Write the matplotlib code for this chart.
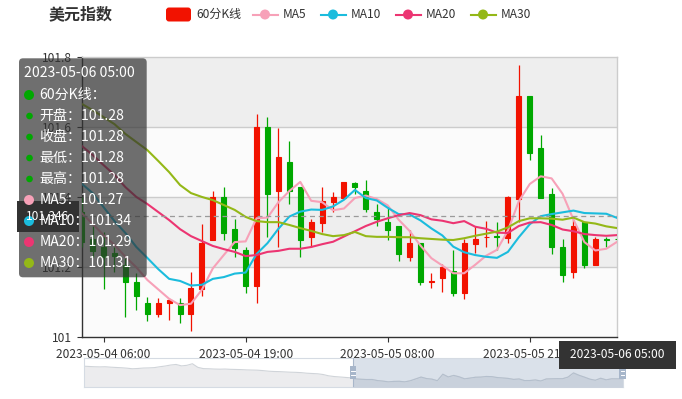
import matplotlib
matplotlib.use('Agg')
import matplotlib.pyplot as plt
from matplotlib.patches import Rectangle, FancyBboxPatch, Circle
import numpy as np
import pandas as pd

plt.rcParams['font.family'] = ['Noto Sans CJK SC', 'DejaVu Sans']

# ---------------- data ----------------
title = '美元指数'
kname = '60分K线'
ma_names = ['MA5', 'MA10', 'MA20', 'MA30']
categories = [t.strftime('%Y-%m-%d %H:%M') for t in
              pd.date_range('2023-05-04 04:00', periods=50, freq='h')]

open_ = [101.359, 101.280, 101.257, 101.240, 101.208, 101.159, 101.099, 101.067, 101.097, 101.099,
         101.067, 101.137, 101.278, 101.400, 101.309, 101.249, 101.147, 101.600, 101.418, 101.500,
         101.429, 101.287, 101.327, 101.387, 101.397, 101.440, 101.419, 101.359, 101.329, 101.319,
         101.229, 101.269, 101.157, 101.169, 101.189, 101.127, 101.266, 101.286, 101.289, 101.283,
         101.396, 101.689, 101.540, 101.409, 101.259, 101.188, 101.329, 101.207, 101.281, 101.280]
close_ = [101.272, 101.247, 101.229, 101.232, 101.157, 101.119, 101.067, 101.099, 101.107, 101.067,
          101.140, 101.269, 101.400, 101.297, 101.256, 101.147, 101.600, 101.409, 101.516, 101.418,
          101.278, 101.330, 101.389, 101.400, 101.443, 101.429, 101.366, 101.338, 101.307, 101.238,
          101.269, 101.157, 101.160, 101.200, 101.127, 101.269, 101.280, 101.288, 101.286, 101.400,
          101.689, 101.527, 101.397, 101.257, 101.178, 101.319, 101.207, 101.280, 101.279, 101.280]
low_ = [101.258, 101.229, 101.138, 101.188, 101.059, 101.078, 101.047, 101.059, 101.049, 101.040,
        101.019, 101.119, 101.278, 101.278, 101.229, 101.127, 101.099, 101.287, 101.257, 101.380,
        101.229, 101.257, 101.300, 101.359, 101.397, 101.409, 101.359, 101.319, 101.278, 101.219,
        101.219, 101.149, 101.140, 101.129, 101.119, 101.109, 101.240, 101.259, 101.249, 101.269,
        101.330, 101.508, 101.397, 101.238, 101.157, 101.169, 101.199, 101.207, 101.259, 101.280]
high_ = [101.400, 101.318, 101.300, 101.258, 101.228, 101.183, 101.116, 101.111, 101.111, 101.113,
         101.187, 101.323, 101.418, 101.429, 101.338, 101.259, 101.638, 101.629, 101.599, 101.562,
         101.430, 101.338, 101.430, 101.416, 101.443, 101.443, 101.449, 101.380, 101.372, 101.319,
         101.307, 101.269, 101.183, 101.209, 101.249, 101.281, 101.318, 101.333, 101.329, 101.405,
         101.778, 101.689, 101.578, 101.428, 101.281, 101.338, 101.329, 101.287, 101.287, 101.280]

ma5 = [101.355, 101.324, 101.292, 101.264, 101.230, 101.200, 101.164, 101.137, 101.110, 101.092,
       101.096, 101.136, 101.197, 101.235, 101.272, 101.274, 101.340, 101.342, 101.386, 101.418,
       101.444, 101.390, 101.386, 101.363, 101.368, 101.398, 101.405, 101.395, 101.377, 101.336,
       101.304, 101.262, 101.226, 101.205, 101.183, 101.183, 101.207, 101.233, 101.250, 101.305,
       101.389, 101.438, 101.460, 101.454, 101.410, 101.336, 101.272, 101.248, 101.253, 101.273]
ma10 = [101.439, 101.412, 101.372, 101.332, 101.298, 101.258, 101.227, 101.195, 101.167, 101.161,
        101.148, 101.150, 101.167, 101.172, 101.182, 101.185, 101.238, 101.269, 101.310, 101.345,
        101.359, 101.365, 101.364, 101.374, 101.393, 101.421, 101.398, 101.391, 101.370, 101.352,
        101.351, 101.334, 101.311, 101.291, 101.259, 101.243, 101.235, 101.230, 101.227, 101.244,
        101.286, 101.323, 101.346, 101.352, 101.357, 101.362, 101.355, 101.354, 101.353, 101.341]
ma20 = [101.547, 101.521, 101.492, 101.464, 101.429, 101.401, 101.381, 101.358, 101.335, 101.309,
        101.289, 101.275, 101.261, 101.252, 101.244, 101.232, 101.235, 101.244, 101.247, 101.253,
        101.253, 101.258, 101.266, 101.273, 101.288, 101.303, 101.318, 101.330, 101.340, 101.349,
        101.355, 101.349, 101.337, 101.333, 101.326, 101.332, 101.316, 101.310, 101.299, 101.298,
        101.318, 101.328, 101.329, 101.321, 101.308, 101.303, 101.295, 101.292, 101.290, 101.292]
ma30 = [101.667, 101.649, 101.629, 101.609, 101.581, 101.558, 101.535, 101.504, 101.472, 101.435,
        101.412, 101.401, 101.392, 101.378, 101.364, 101.344, 101.332, 101.329, 101.329, 101.321,
        101.312, 101.304, 101.295, 101.289, 101.292, 101.301, 101.289, 101.287, 101.287, 101.286,
        101.286, 101.283, 101.281, 101.279, 101.278, 101.283, 101.290, 101.296, 101.302, 101.314,
        101.332, 101.340, 101.340, 101.339, 101.336, 101.342, 101.329, 101.325, 101.317, 101.312]

# closes before the visible window
prior_close = [102.16, 102.14, 102.12, 102.11, 102.12, 102.09, 102.07, 102.05, 102.02, 101.98,
               102.00, 102.03, 102.04, 102.06, 102.12, 102.17, 102.24, 102.28, 102.18, 102.22,
               102.33, 102.08, 101.99, 101.98, 101.96, 101.95, 101.96, 101.94, 101.93, 101.92,
               101.90, 101.89, 101.88, 101.85, 101.81, 101.79, 101.78, 101.76, 101.74, 101.73,
               101.71, 101.67, 101.65, 101.63, 101.58, 101.49, 101.44, 101.41, 101.38, 101.35]

y_ticks = [101.0, 101.2, 101.4, 101.6, 101.8]
pointer_value = 101.346
zoom_start_pct = 50

# ---------------- style ----------------
W, H, DPI = 682, 399, 100
RED, GREEN = '#f21200', '#00a800'
MA_COLORS = ['#f7a1b8', '#1bbcdd', '#ec3572', '#94b817']
TXT = '#333333'


def px(v):
    return v * 72.0 / DPI


fig = plt.figure(figsize=(W / DPI, H / DPI), dpi=DPI)
fig.patch.set_facecolor('white')

PL, PR, PT, PB = 81.7, 617.2, 57.3, 337.3
ax = fig.add_axes([PL / W, 1 - PB / H, (PR - PL) / W, (PB - PT) / H])
n = len(close_)
x = np.arange(n)
ax.set_xlim(0, n - 1)
ax.set_ylim(y_ticks[0], y_ticks[-1])
ax.set_facecolor('white')

for i in range(len(y_ticks) - 1):
    ax.axhspan(y_ticks[i], y_ticks[i + 1], color=['#fbfbfb', '#eeeeee'][i % 2], lw=0, zorder=0)
for v in y_ticks[1:-1]:
    ax.axhline(v, color='#cccccc', lw=1, zorder=0.5)

o = np.array(open_); c = np.array(close_); lo = np.array(low_); hi = np.array(high_)
cols = [RED if cc > oo else GREEN for oo, cc in zip(o, c)]
ax.vlines(x, lo, hi, colors=cols, lw=0.9, zorder=3)
ax.bar(x, np.abs(c - o), bottom=np.minimum(o, c), width=0.46, color=cols,
       edgecolor=cols, linewidth=0.8, zorder=4)

for vals, col in zip([ma5, ma10, ma20, ma30], MA_COLORS):
    ax.plot(x, vals, color=col, lw=1.5, zorder=5, solid_joinstyle='round')

ax.axhline(pointer_value, color='#9a9a9a', lw=0.9, ls=(0, (4, 3)), zorder=6)

ticks = list(range(2, n, 13))
ax.set_xticks(ticks)
ax.set_xticklabels([categories[t] for t in ticks])
ax.set_yticks(y_ticks)
ax.set_yticklabels([('%g' % v) for v in y_ticks])
ax.tick_params(axis='both', colors=TXT, labelsize=px(12), length=px(5), width=0.8)
ax.tick_params(axis='x', pad=4)
ax.tick_params(axis='y', pad=3.4)
for s in ['left', 'bottom']:
    ax.spines[s].set_color(TXT); ax.spines[s].set_linewidth(1)
for s in ['top', 'right']:
    ax.spines[s].set_color('#cccccc'); ax.spines[s].set_linewidth(1)

# ---------------- data zoom slider ----------------
SL, SR, ST, SB = 83.5, 622.5, 358.3, 387.3
sl = fig.add_axes([SL / W, 1 - SB / H, (SR - SL) / W, (SB - ST) / H])
full = np.array(prior_close + close_)
fx = np.arange(len(full))
fmin, fmax = full.min(), full.max()
rng = fmax - fmin
y0, y1 = fmin - 0.3 * rng, fmax + 0.3 * rng
sl.set_xlim(0, len(full) - 1)
sl.set_ylim(y0, y1)
start_x = (len(full) - 1) * zoom_start_pct / 100.0
sl.axvspan(start_x, len(full) - 1, color='#dae1ea', lw=0, zorder=0)
sl.fill_between(fx, y0, full, color='#ececee', lw=0, zorder=1)
sl.plot(fx, full, color='#d0d4d9', lw=0.8, zorder=2)
sel = sl.fill_between(fx, y0, full, color='#c9d1dc', lw=0, zorder=3)
line_sel, = sl.plot(fx, full, color='#b4bfcd', lw=0.8, zorder=4)
clip = Rectangle((start_x, y0), len(full) - 1 - start_x, y1 - y0, transform=sl.transData)
sel.set_clip_path(clip); line_sel.set_clip_path(clip)
sl.axvline(start_x, color='#a9b7ca', lw=0.8, zorder=5)
sl.set_xticks([]); sl.set_yticks([])
for s in sl.spines.values():
    s.set_color('#d5dbe3'); s.set_linewidth(0.8)

# ---------------- overlay (title, legend, tooltip, pointer labels) ----------------
ov = fig.add_axes([0, 0, 1, 1], zorder=10)
ov.set_xlim(0, W); ov.set_ylim(H, 0)
ov.axis('off'); ov.patch.set_alpha(0)

# slider handles
hx_left = SL + (SR - SL) * zoom_start_pct / 100.0
for hxp in [hx_left, SR]:
    ov.add_patch(Rectangle((hxp - 3.3, 366), 6.6, 13, fc='#a7b6ca', ec='none'))
    for yy in [370.5, 374.5]:
        ov.plot([hxp - 1.8, hxp + 1.8], [yy, yy], color='white', lw=0.7)

ov.text(49, 14.5, title, fontsize=px(16), fontweight='bold', color=TXT, va='center', ha='left')

# legend
ov.add_patch(FancyBboxPatch((166, 7.5), 25, 14, boxstyle='round,pad=0,rounding_size=3',
                            fc=RED, ec='none'))
ov.text(196, 14.5, kname, fontsize=px(12), color=TXT, va='center', ha='left')
leg_x = [252.5, 320.5, 395.5, 470.5]
for lx, name, col in zip(leg_x, ma_names, MA_COLORS):
    ov.plot([lx, lx + 25], [14.5, 14.5], color=col, lw=1.5)
    ov.add_patch(Circle((lx + 12.5, 14.5), 5, fc=col, ec='none'))
    ov.text(lx + 30, 14.5, name, fontsize=px(12), color=TXT, va='center', ha='left')

# y pointer label (under tooltip)
ov.add_patch(Rectangle((17, 201), 62, 31, fc='#333333', ec='none'))
ov.text(48, 216.5, '%.3f' % pointer_value, fontsize=px(12), color='white', va='center', ha='center')

# tooltip
ov.add_patch(FancyBboxPatch((19, 58.3), 127.7, 219, boxstyle='round,pad=0,rounding_size=4',
                            fc='#323232', alpha=0.7, ec='none'))
last = n - 1
kcol = RED if c[last] > o[last] else GREEN
fs = px(14)
ov.text(24, 73.3, categories[last], fontsize=fs, color='white', va='center', ha='left')
ov.add_patch(Circle((29, 95), 5, fc=kcol, ec='none'))
ov.text(39.3, 95, kname + '：', fontsize=fs, color='white', va='center', ha='left')
sub = [('开盘', o[last]), ('收盘', c[last]), ('最低', lo[last]), ('最高', hi[last])]
for k, (lab, val) in enumerate(sub):
    yy = 116 + 21 * k
    ov.add_patch(Circle((29.5, yy), 3.3, fc=kcol, ec='none'))
    ov.text(39.3, yy, '%s：%.2f' % (lab, val), fontsize=fs, color='white', va='center', ha='left')
for k, (name, vals, col) in enumerate(zip(ma_names, [ma5, ma10, ma20, ma30], MA_COLORS)):
    yy = 200 + 21 * k
    ov.add_patch(Circle((29, yy), 5, fc=col, ec='none'))
    ov.text(39.3, yy, '%s：%.2f' % (name, vals[last]), fontsize=fs, color='white',
            va='center', ha='left')

# x pointer label
xp = PR
ov.add_patch(Rectangle((xp - 58.5, 341), 117, 27.5, fc='#333333', ec='none'))
ov.text(xp, 354.7, categories[last], fontsize=px(12), color='white', va='center', ha='center')

fig.savefig('out.png', dpi=DPI, facecolor='white')
